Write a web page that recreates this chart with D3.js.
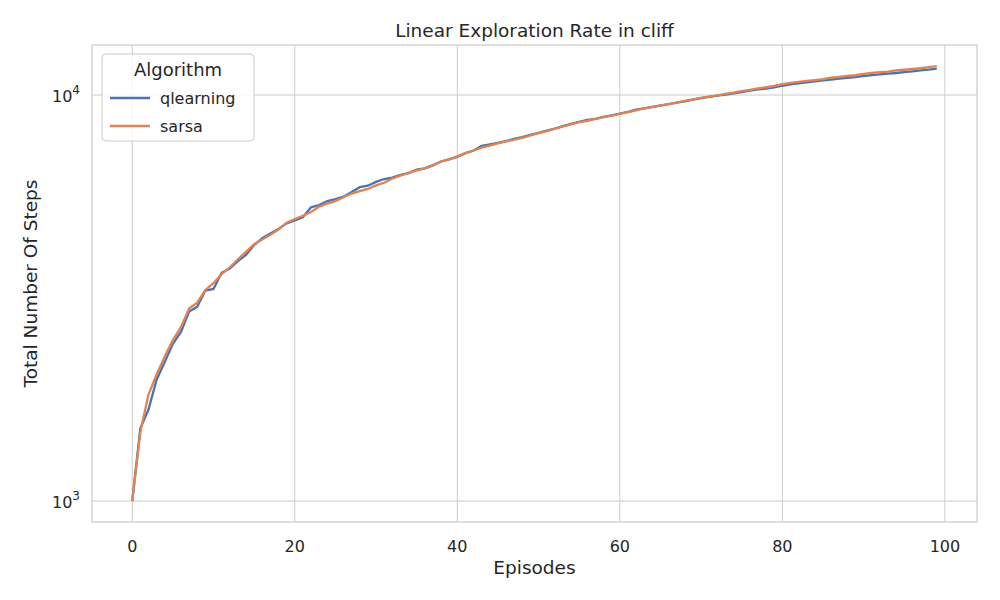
<!DOCTYPE html>
<meta charset="utf-8">
<style>
body { margin:0; background:#fff; font-family:'DejaVu Sans',sans-serif; }
</style>
<script src="https://d3js.org/d3.v7.min.js"></script>
<div id="chart"></div>
<script>
var episodes = d3.range(100);
var sarsa = [1000,1480,1830,2050,2270,2490,2680,2980,3080,3310,3440,3620,3760,3940,4110,4290,4410,4530,4660,4850,
  4950,5040,5150,5310,5400,5480,5600,5720,5800,5870,5990,6080,6230,6330,6430,6520,6600,6720,6860,6940,
  7060,7190,7300,7420,7510,7600,7690,7760,7840,7950,8060,8150,8260,8370,8470,8570,8640,8730,8820,8900,
  8990,9080,9170,9270,9340,9430,9500,9580,9670,9760,9840,9910,9980,10060,10140,10230,10300,10380,10450,10530,
  10630,10710,10770,10830,10880,10940,11030,11090,11150,11200,11280,11340,11380,11420,11500,11540,11590,11640,11710,11780];
var qlearning = [1000,1510,1680,1990,2200,2440,2610,2930,3010,3300,3330,3650,3740,3900,4040,4270,4440,4560,4680,4830,
  4910,5000,5290,5360,5480,5540,5620,5770,5930,5980,6110,6210,6260,6360,6420,6550,6600,6710,6860,6940,
  7040,7190,7300,7500,7560,7620,7700,7800,7880,7980,8070,8170,8270,8380,8490,8590,8690,8740,8830,8910,
  9000,9090,9200,9270,9350,9420,9500,9580,9650,9740,9820,9900,9960,10020,10100,10170,10250,10320,10370,10440,
  10540,10620,10690,10740,10800,10860,10920,10980,11030,11070,11140,11190,11240,11290,11330,11390,11440,11500,11550,11620];
var series = [
  {name:"qlearning", color:"#4c72b0", values:qlearning},
  {name:"sarsa", color:"#dd8452", values:sarsa}
];

var W = 1000, H = 600;
var margin = {top:45, right:23, bottom:78, left:92};
var width = W - margin.left - margin.right, height = H - margin.top - margin.bottom;

var svg = d3.select("#chart").append("svg").attr("width", W).attr("height", H);
var g = svg.append("g").attr("transform", "translate(" + margin.left + "," + margin.top + ")");

var x = d3.scaleLinear().domain([-4.95, 103.95]).range([0, width]);
var y = d3.scaleLog().domain([888, 13280]).range([height, 0]);

// grid
g.selectAll(".vg").data([0,20,40,60,80,100]).enter().append("line")
  .attr("x1", d => x(d)).attr("x2", d => x(d)).attr("y1", 0).attr("y2", height)
  .attr("stroke", "#cccccc").attr("stroke-width", 1);
g.selectAll(".hg").data([1000,10000]).enter().append("line")
  .attr("y1", d => y(d)).attr("y2", d => y(d)).attr("x1", 0).attr("x2", width)
  .attr("stroke", "#cccccc").attr("stroke-width", 1);
g.append("rect").attr("width", width).attr("height", height)
  .attr("fill", "none").attr("stroke", "#cccccc").attr("stroke-width", 1.25);

// ticks
g.selectAll(".xt").data([0,20,40,60,80,100]).enter().append("text")
  .attr("x", d => x(d)).attr("y", height + 30).attr("text-anchor", "middle")
  .attr("font-size", 16).attr("fill", "#262626").text(d => d);
[[1000,"3"],[10000,"4"]].forEach(function(t) {
  var tx = g.append("text").attr("x", -12).attr("y", y(t[0]) + 7).attr("text-anchor", "end")
    .attr("font-size", 16).attr("fill", "#262626");
  tx.append("tspan").text("10");
  tx.append("tspan").attr("dy", -8).attr("font-size", 12).text(t[1]);
});

// lines
var line = d3.line().x((d, i) => x(episodes[i])).y(d => y(d));
series.forEach(function(s) {
  g.append("path").datum(s.values).attr("d", line)
    .attr("fill", "none").attr("stroke", s.color).attr("stroke-width", 2.3);
});

// labels
svg.append("text").attr("x", margin.left + width / 2).attr("y", 37).attr("text-anchor", "middle")
  .attr("font-size", 18.5).attr("fill", "#262626").text("Linear Exploration Rate in cliff");
svg.append("text").attr("x", margin.left + width / 2).attr("y", 574).attr("text-anchor", "middle")
  .attr("font-size", 18.5).attr("fill", "#262626").text("Episodes");
svg.append("text").attr("transform", "translate(37," + (margin.top + height / 2) + ") rotate(-90)")
  .attr("text-anchor", "middle").attr("font-size", 18.5).attr("fill", "#262626").text("Total Number Of Steps");

// legend
var lg = svg.append("g").attr("transform", "translate(102,54)");
lg.append("rect").attr("width", 152).attr("height", 87).attr("rx", 4)
  .attr("fill", "#fff").attr("fill-opacity", 0.8).attr("stroke", "#cccccc");
lg.append("text").attr("x", 76).attr("y", 22).attr("text-anchor", "middle")
  .attr("font-size", 18).attr("fill", "#262626").text("Algorithm");
series.forEach(function(s, i) {
  var yy = 44 + i * 28;
  lg.append("line").attr("x1", 8).attr("x2", 48).attr("y1", yy).attr("y2", yy)
    .attr("stroke", s.color).attr("stroke-width", 2.3);
  lg.append("text").attr("x", 58).attr("y", yy + 6).attr("font-size", 16)
    .attr("fill", "#262626").text(s.name);
});
</script>
